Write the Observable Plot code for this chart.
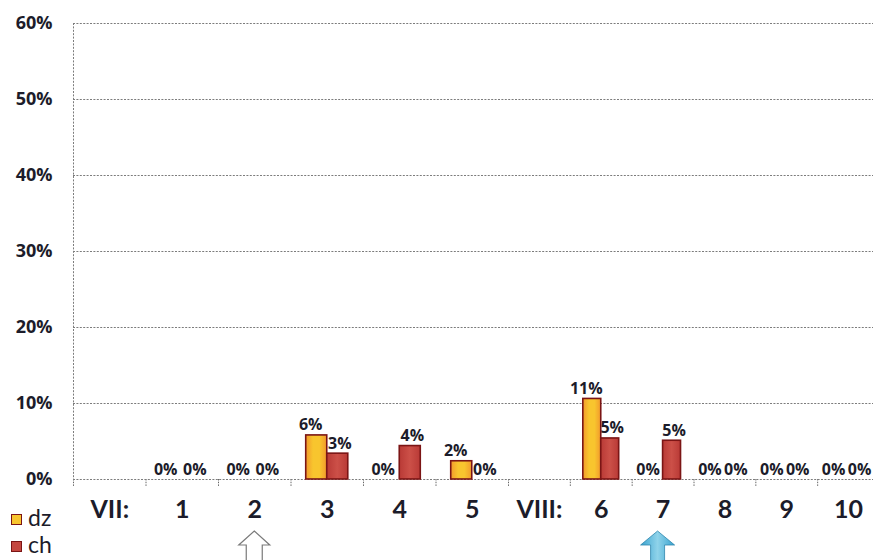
<!DOCTYPE html>
<html>
<head>
<meta charset="utf-8">
<script src="https://cdn.jsdelivr.net/npm/d3@7"></script>
<script src="https://cdn.jsdelivr.net/npm/@observablehq/plot@0.6"></script>
<style>
  html, body { margin: 0; padding: 0; background: #fff; }
  #wrap { position: relative; width: 873px; height: 560px; overflow: hidden; }
  #legend { position: absolute; left: 11px; top: 504px; font-family: Lato, "Open Sans", sans-serif;
            font-size: 23px; color: #1c1c2a; line-height: 27px; }
  #legend .sw { display: inline-block; width: 9px; height: 9px; border: 1.5px solid #7b1515;
                margin-right: 6px; vertical-align: middle; position: relative; top: -1px; }
  g[aria-label^="x-axis"] line, g[aria-label^="x-axis"] path { stroke: #666; stroke-dasharray: 1.5 1.2; }
</style>
</head>
<body>
<div id="wrap">
  <div id="legend"></div>
</div>
<script>
// ---- data ----
const categories = ["VII:", "1", "2", "3", "4", "5", "VIII:", "6", "7", "8", "9", "10"];
const days = ["1", "2", "3", "4", "5", "6", "7", "8", "9", "10"];
const seriesNames = ["dz", "ch"];
const dzValues = [0, 0, 5.8, 0, 2.4, 10.6, 0, 0, 0, 0];
const chValues = [0, 0, 3.4, 4.4, 0, 5.4, 5.1, 0, 0, 0];
const yTicks = [0, 10, 20, 30, 40, 50, 60];
const markedDays = ["2", "7"];
const seriesColors = ["#f6b62c", "#c4463f"];

// ---- derived table ----
const rows = days.flatMap((d, i) => [
  {day: d, series: "dz", value: dzValues[i]},
  {day: d, series: "ch", value: chValues[i]}
]);
const pos = d => categories.indexOf(d);
const barX1 = r => pos(r.day) + (r.series === "dz" ? 0.21 : 0.5);
const barX2 = r => pos(r.day) + (r.series === "dz" ? 0.5 : 0.79);
const barMid = r => (barX1(r) + barX2(r)) / 2;
const boundaries = d3.range(categories.length + 1);
const ink = "#1c1c2a";

const labelMark = (series, dx) => Plot.text(rows.filter(r => r.series === series), {
  x: barMid, y: "value", text: r => Math.round(r.value) + "%", lineAnchor: "bottom", dy: -5, dx,
  fontSize: 16, fontWeight: 700, fill: ink
});

const chart = Plot.plot({
  width: 873,
  height: 560,
  marginTop: 23,
  marginBottom: 81,
  marginLeft: 73,
  marginRight: 0,
  style: {fontFamily: "'Open Sans', sans-serif", background: "white", color: ink},
  x: {type: "linear", domain: [0, 6, 12], range: [73, 508, 879], ticks: boundaries, tickFormat: () => "", tickSize: 7},
  y: {domain: [0, 60], axis: null},
  color: {domain: seriesNames, range: ["url(#dzFill)", "url(#chFill)"]},
  marks: [
    Plot.ruleY(yTicks, {y: d => d, stroke: "#7c7c7c", strokeDasharray: "2,1.4"}),
    Plot.ruleX([0], {x: d => d, stroke: "#7c7c7c", strokeDasharray: "2,1.4"}),
    Plot.rectY(rows.filter(r => r.value > 0), {x1: barX1, x2: barX2, y: "value", fill: "series", stroke: "#7b1515", strokeWidth: 1.6}),
    labelMark("dz", -6),
    labelMark("ch", 2),
    Plot.text(yTicks, {y: d => d, text: d => d + "%", frameAnchor: "left", textAnchor: "end", dx: -21,
                       fontSize: 18, fontWeight: 700, fill: ink}),
    Plot.text(categories, {x: (d, i) => i + 0.5, text: d => d, frameAnchor: "bottom", dy: 38,
                           fontSize: 25, fontWeight: 700, fontFamily: "Lato, 'Open Sans', sans-serif", fill: ink})
  ]
});

document.getElementById("wrap").prepend(chart);

// gradients
const svg = d3.select(chart);
const defs = svg.insert("defs", ":first-child");
function grad(id, stops) {
  const g = defs.append("linearGradient").attr("id", id).attr("x1", 0).attr("x2", 1).attr("y1", 0).attr("y2", 0);
  stops.forEach(([o, c]) => g.append("stop").attr("offset", o).attr("stop-color", c));
}
grad("dzFill", [["0%", "#f29a2c"], ["35%", "#f8c52e"], ["65%", "#f8c52e"], ["100%", "#f29a2c"]]);
grad("chFill", [["0%", "#b93a36"], ["50%", "#cc5048"], ["100%", "#b93a36"]]);
grad("arrowBlue", [["0%", "#3aa3cf"], ["50%", "#8fd3ea"], ["100%", "#3aa3cf"]]);

// arrows under marked days, placed via the plot's x scale
const xs = chart.scale("x");
const sx = d3.scaleLinear().domain(xs.domain).range(xs.range);
const ys = chart.scale("y");
const sy = d3.scaleLinear().domain(ys.domain).range(ys.range);
const tipY = sy(0) + 52;
function arrowPath(cx, hw, sw) {
  const headY = tipY + 14, bottom = tipY + 40;
  return `M${cx},${tipY}L${cx + hw},${headY}L${cx + sw},${headY}L${cx + sw},${bottom}L${cx - sw},${bottom}L${cx - sw},${headY}L${cx - hw},${headY}Z`;
}
markedDays.forEach((d, k) => {
  const cx = sx(pos(d) + 0.5) - (k === 1 ? 5 : 0);
  svg.append("path")
    .attr("d", arrowPath(cx, k === 0 ? 15.5 : 17, k === 0 ? 8 : 7))
    .attr("fill", k === 0 ? "#fff" : "url(#arrowBlue)")
    .attr("stroke", k === 0 ? "#7a7a7a" : "#2f86ad")
    .attr("stroke-width", k === 0 ? 1.2 : 0.8);
});

// legend
const legend = d3.select("#legend");
seriesNames.forEach((s, i) => {
  const row = legend.append("div");
  row.append("span").attr("class", "sw").style("background", i === 0 ? "#f8c52e" : seriesColors[1]);
  row.append("span").text(s);
});
</script>
</body>
</html>
